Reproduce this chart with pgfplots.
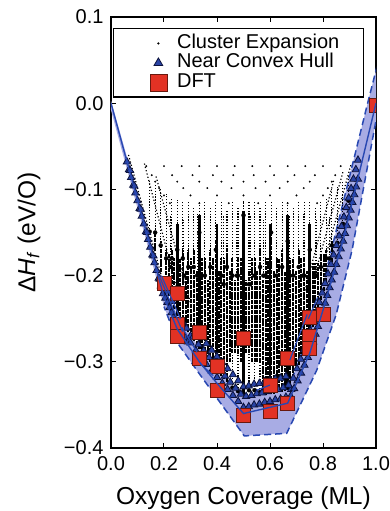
\documentclass[border=0pt]{standalone}
\usepackage{pgfplots}
\pgfplotsset{compat=1.18}
\usepackage{fontspec}
\setmainfont{Liberation Sans}
\definecolor{bandfill}{RGB}{168,172,228}
\definecolor{hullblue}{RGB}{40,72,178}
\definecolor{triblue}{RGB}{42,68,165}
\definecolor{tridark}{RGB}{12,18,60}
\definecolor{dftred}{RGB}{226,50,36}
\definecolor{dftdark}{RGB}{105,25,15}
\pgfplotsset{
  mylegimg/.style={legend image code/.code={\path (-41pt,-6pt) (17pt,6pt); \draw[mark repeat=1,##1,#1] plot coordinates {(0pt,0pt)};}},
}
\begin{document}
\begin{tikzpicture}
\useasboundingbox (-111pt,-63pt) rectangle (279pt,448pt);
\begin{axis}[
  at={(0pt,0pt)}, anchor=south west,
  scale only axis, width=265pt, height=431pt,
  xmin=0, xmax=1, ymin=-0.4, ymax=0.1,
  xtick={0,0.2,0.4,0.6,0.8,1}, xticklabels={0.0,0.2,0.4,0.6,0.8,1.0},
  ytick={-0.4,-0.3,-0.2,-0.1,0,0.1}, yticklabels={−0.4,−0.3,−0.2,−0.1,0.0,0.1},
  minor tick num=0, tick align=inside, major tick length=5.5pt,
  every tick/.style={black, line width=1pt},
  axis line style={line width=1.4pt},
  tick label style={font=\fontsize{20}{24}\selectfont},
  xticklabel style={yshift=-5pt},
  yticklabel style={xshift=-4pt},
  xlabel={Oxygen Coverage (ML)},
  xlabel style={font=\fontsize{24.5}{28}\selectfont, at={(axis description cs:0.5,-0.132)}, anchor=base},
  ylabel={Δ\textit{H}\textsubscript{\textit{f}} (eV/O)},
  ylabel style={font=\fontsize{24.5}{28}\selectfont, at={(axis description cs:-0.309,0.5)}, anchor=center},
  clip marker paths=true,
  legend cell align=left,
  legend style={at={(axis description cs:0.0075,0.9745)}, anchor=north west, draw=black, line width=1.4pt, fill=white, inner xsep=3pt, inner ysep=5pt, row sep=0pt, font=\fontsize{20}{20}\selectfont, nodes={inner xsep=1pt, inner ysep=0pt, text height=14.5pt, text depth=5pt}},
]
% uncertainty band
\addplot[fill=bandfill, draw=none, forget plot] coordinates {
(0,0.003) (0.2,-0.214) (0.25,-0.245) (0.333,-0.284) (0.4,-0.308) (0.5,-0.342) (0.667,-0.332) (0.75,-0.268) (0.8,-0.21) (0.97,0.002) (1.01,0.05)
(1.04,0.0) (1.0,-0.02) (0.91,-0.17) (0.85,-0.245) (0.776,-0.31) (0.663,-0.383) (0.503,-0.386) (0.336,-0.315) (0.255,-0.28) (0.2,-0.236) (0,-0.008)};
\addplot[hullblue, line width=1.5pt, dash pattern=on 7pt off 4pt, forget plot] coordinates {
(0.667,-0.332) (0.75,-0.268) (0.8,-0.21) (0.97,0.002) (1.01,0.05)};
\addplot[hullblue, line width=1.5pt, dash pattern=on 7pt off 4pt, forget plot] coordinates {
(1.04,0.0) (1.0,-0.02) (0.91,-0.17) (0.85,-0.245) (0.776,-0.31) (0.663,-0.383) (0.503,-0.386) (0.336,-0.315) (0.255,-0.28) (0.2,-0.236)};
% cluster expansion: sparse rows
\addplot[only marks, mark=*, mark size=0.85pt, black, line width=0.2pt, mylegimg={mark size=1pt}] table {
x y
0.1333 -0.073
0.2 -0.073
0.2667 -0.073
0.3333 -0.073
0.4 -0.073
0.4667 -0.073
0.5333 -0.073
0.6 -0.073
0.6667 -0.073
0.7333 -0.073
0.8 -0.073
0.8667 -0.073
0.1538 -0.0835
0.2308 -0.0835
0.3077 -0.0835
0.3846 -0.0835
0.4615 -0.0835
0.5385 -0.0835
0.6154 -0.0835
0.6923 -0.0835
0.7692 -0.0835
0.8462 -0.0835
0.1667 -0.091
0.25 -0.091
0.3333 -0.091
0.4167 -0.091
0.5 -0.091
0.5833 -0.091
0.6667 -0.091
0.75 -0.091
0.8333 -0.091
0.1818 -0.0985
0.2727 -0.0985
0.3636 -0.0985
0.4545 -0.0985
0.5455 -0.0985
0.6364 -0.0985
0.7273 -0.0985
0.8182 -0.0985
0.2 -0.107
0.3 -0.107
0.4 -0.107
0.5 -0.107
0.6 -0.107
0.7 -0.107
0.8 -0.107
0.2222 -0.116
0.3333 -0.116
0.4444 -0.116
0.5556 -0.116
0.6667 -0.116
0.7778 -0.116
};
\addlegendentry{Cluster Expansion\hspace*{20pt}}
% cluster expansion: diagonal strips
\addplot[black, line width=1.2pt, dash pattern=on 1.2pt off 2.2pt, unbounded coords=jump, forget plot] coordinates {
(0.066,-0.060) (0.2,-0.2114) (0.2,nan)
(0.126,-0.070) (0.25,-0.2175) (0.25,nan)
(0.17,-0.085) (0.3,-0.232) (0.3,nan)
(0.905,-0.072) (0.79,-0.2) (0.79,nan)
(0.875,-0.08) (0.76,-0.21) (0.76,nan)
(0.84,-0.09) (0.73,-0.22)};
% cluster expansion: sparse columns
\addplot[only marks, mark=none, forget plot, error bars/.cd, y dir=plus, y explicit, error mark=none,
  error bar style={black, line width=1.2pt, dash pattern=on 1.2pt off 1.7pt}]
  table[x=x, y=lo, y error plus expr=\thisrow{hi}-\thisrow{lo}] {
x lo hi
0.1458 -0.149 -0.090
0.1667 -0.150 -0.095
0.1875 -0.165 -0.100
0.2083 -0.180 -0.105
0.2292 -0.180 -0.110
0.2500 -0.170 -0.112
0.2708 -0.180 -0.113
0.2917 -0.190 -0.113
0.3125 -0.190 -0.120
0.3333 -0.150 -0.113
0.3542 -0.200 -0.113
0.3750 -0.190 -0.120
0.3958 -0.170 -0.113
0.4167 -0.200 -0.113
0.4375 -0.190 -0.125
0.4583 -0.200 -0.113
0.4583 -0.330 -0.290
0.4792 -0.200 -0.120
0.4792 -0.334 -0.290
0.5000 -0.130 -0.113
0.5208 -0.210 -0.115
0.5208 -0.333 -0.290
0.5417 -0.200 -0.113
0.5417 -0.333 -0.300
0.5625 -0.190 -0.120
0.5625 -0.335 -0.300
0.5833 -0.200 -0.113
0.6042 -0.150 -0.113
0.6250 -0.200 -0.120
0.6458 -0.190 -0.113
0.6667 -0.160 -0.113
0.6875 -0.200 -0.120
0.7083 -0.190 -0.113
0.7292 -0.200 -0.113
0.7500 -0.170 -0.113
0.7708 -0.200 -0.120
0.7917 -0.190 -0.113
0.8125 -0.180 -0.110
0.8333 -0.165 -0.100
0.8542 -0.162 -0.095
0.8750 -0.140 -0.090
0.8958 -0.113 -0.085
0.2250 -0.190 -0.130
0.2750 -0.200 -0.135
0.3250 -0.200 -0.128
0.4250 -0.210 -0.130
0.4750 -0.200 -0.140
0.5250 -0.210 -0.130
0.5750 -0.200 -0.135
0.6750 -0.200 -0.130
0.7250 -0.200 -0.128
0.7750 -0.200 -0.135
0.8250 -0.180 -0.130
};
% cluster expansion: dense columns
\addplot[black, line width=2pt, dash pattern=on 4pt off 0.8pt, unbounded coords=jump, forget plot] coordinates {
(0.1667,-0.172)(0.1667,-0.150)(0.1667,nan)
(0.1875,-0.196)(0.1875,-0.160)(0.1875,nan)
(0.2083,-0.216)(0.2083,-0.170)(0.2083,nan)
(0.2188,-0.224)(0.2188,-0.175)(0.2188,nan)
(0.2292,-0.232)(0.2292,-0.170)(0.2292,nan)
(0.2396,-0.239)(0.2396,-0.180)(0.2396,nan)
(0.2500,-0.247)(0.2500,-0.160)(0.2500,nan)
(0.2604,-0.252)(0.2604,-0.180)(0.2604,nan)
(0.2708,-0.256)(0.2708,-0.170)(0.2708,nan)
(0.2813,-0.261)(0.2813,-0.195)(0.2813,nan)
(0.2917,-0.266)(0.2917,-0.170)(0.2917,nan)
(0.3021,-0.271)(0.3021,-0.180)(0.3021,nan)
(0.3125,-0.276)(0.3125,-0.170)(0.3125,nan)
(0.3229,-0.280)(0.3229,-0.195)(0.3229,nan)
(0.3333,-0.285)(0.3333,-0.140)(0.3333,nan)
(0.3438,-0.289)(0.3438,-0.180)(0.3438,nan)
(0.3542,-0.293)(0.3542,-0.180)(0.3542,nan)
(0.3646,-0.297)(0.3646,-0.205)(0.3646,nan)
(0.3750,-0.300)(0.3750,-0.170)(0.3750,nan)
(0.3854,-0.305)(0.3854,-0.180)(0.3854,nan)
(0.3958,-0.308)(0.3958,-0.160)(0.3958,nan)
(0.4063,-0.312)(0.4063,-0.195)(0.4063,nan)
(0.4167,-0.316)(0.4167,-0.180)(0.4167,nan)
(0.4271,-0.320)(0.4271,-0.180)(0.4271,nan)
(0.4375,-0.323)(0.4375,-0.170)(0.4375,nan)
(0.4479,-0.300)(0.4479,-0.195)(0.4479,nan)
(0.4583,-0.290)(0.4583,-0.180)(0.4583,nan)
(0.4688,-0.290)(0.4688,-0.205)(0.4688,nan)
(0.4792,-0.290)(0.4792,-0.180)(0.4792,nan)
(0.4896,-0.300)(0.4896,-0.180)(0.4896,nan)
(0.5104,-0.290)(0.5104,-0.205)(0.5104,nan)
(0.5208,-0.290)(0.5208,-0.195)(0.5208,nan)
(0.5313,-0.300)(0.5313,-0.180)(0.5313,nan)
(0.5417,-0.300)(0.5417,-0.180)(0.5417,nan)
(0.5521,-0.300)(0.5521,-0.195)(0.5521,nan)
(0.5625,-0.300)(0.5625,-0.170)(0.5625,nan)
(0.5729,-0.337)(0.5729,-0.205)(0.5729,nan)
(0.5833,-0.338)(0.5833,-0.180)(0.5833,nan)
(0.5938,-0.3375)(0.5938,-0.180)(0.5938,nan)
(0.6042,-0.3375)(0.6042,-0.140)(0.6042,nan)
(0.6146,-0.337)(0.6146,-0.195)(0.6146,nan)
(0.6250,-0.336)(0.6250,-0.180)(0.6250,nan)
(0.6354,-0.3355)(0.6354,-0.180)(0.6354,nan)
(0.6458,-0.3345)(0.6458,-0.170)(0.6458,nan)
(0.6563,-0.334)(0.6563,-0.195)(0.6563,nan)
(0.6667,-0.333)(0.6667,-0.150)(0.6667,nan)
(0.6771,-0.326)(0.6771,-0.180)(0.6771,nan)
(0.6875,-0.319)(0.6875,-0.180)(0.6875,nan)
(0.6979,-0.311)(0.6979,-0.195)(0.6979,nan)
(0.7083,-0.304)(0.7083,-0.170)(0.7083,nan)
(0.7188,-0.297)(0.7188,-0.180)(0.7188,nan)
(0.7292,-0.290)(0.7292,-0.180)(0.7292,nan)
(0.7396,-0.282)(0.7396,-0.195)(0.7396,nan)
(0.7500,-0.270)(0.7500,-0.160)(0.7500,nan)
(0.7604,-0.260)(0.7604,-0.185)(0.7604,nan)
(0.7708,-0.249)(0.7708,-0.185)(0.7708,nan)
(0.7813,-0.239)(0.7813,-0.185)(0.7813,nan)
(0.7917,-0.228)(0.7917,-0.175)(0.7917,nan)
(0.8021,-0.218)(0.8021,-0.175)(0.8021,nan)
(0.8125,-0.207)(0.8125,-0.170)(0.8125,nan)
(0.8333,-0.184)(0.8333,-0.160)
};
% cluster expansion: heavily populated compositions
\addplot[black, line width=2.6pt, unbounded coords=jump, forget plot] coordinates {
(0.25,-0.247)(0.25,-0.14)(0.25,nan)
(0.3333,-0.285)(0.3333,-0.13)(0.3333,nan)
(0.4,-0.31)(0.4,-0.14)(0.4,nan)
(0.5,-0.338)(0.5,-0.125)(0.5,nan)
(0.6,-0.337)(0.6,-0.14)(0.6,nan)
(0.6667,-0.333)(0.6667,-0.13)(0.6667,nan)
(0.75,-0.27)(0.75,-0.14)
};
% near convex hull
\addplot[only marks, mark=triangle*, mark size=4.2pt, mark options={fill=triblue, draw=tridark, line width=0.8pt}, mylegimg={mark size=5pt}] coordinates {
(0.060,-0.068)(0.068,-0.077)(0.076,-0.086)(0.084,-0.095)(0.092,-0.104)(0.100,-0.113)(0.108,-0.122)(0.116,-0.131)(0.124,-0.140)(0.132,-0.149)(0.140,-0.158)(0.148,-0.167)(0.156,-0.176)(0.164,-0.185)(0.172,-0.194)(0.180,-0.203)(0.188,-0.212)(0.196,-0.221)
(0.072,-0.078)(0.088,-0.096)(0.112,-0.123)(0.136,-0.150)(0.160,-0.177)(0.184,-0.204)
(0.205,-0.226)(0.213,-0.231)(0.221,-0.237)(0.229,-0.243)(0.237,-0.249)(0.262,-0.262)(0.271,-0.267)(0.28,-0.272)(0.29,-0.277)
(0.215,-0.218)(0.232,-0.23)(0.27,-0.254)(0.285,-0.261)(0.3,-0.27)
(0.30,-0.278)(0.32,-0.287)(0.34,-0.296)(0.36,-0.303)(0.38,-0.3105)(0.40,-0.318)(0.42,-0.325)(0.44,-0.332)(0.46,-0.339)(0.48,-0.346)(0.50,-0.353)(0.52,-0.352)(0.54,-0.350)(0.56,-0.349)(0.58,-0.347)(0.60,-0.346)(0.62,-0.344)(0.64,-0.343)(0.66,-0.341)(0.68,-0.332)
(0.31,-0.271)(0.33,-0.280)(0.35,-0.287)(0.37,-0.295)(0.39,-0.302)(0.41,-0.3095)(0.43,-0.3165)(0.45,-0.3235)(0.47,-0.3305)(0.49,-0.3375)(0.51,-0.340)(0.53,-0.339)(0.55,-0.337)(0.57,-0.336)(0.59,-0.3345)(0.61,-0.333)(0.63,-0.332)(0.65,-0.330)(0.67,-0.327)
(0.32,-0.263)(0.34,-0.272)(0.36,-0.279)(0.38,-0.2865)(0.40,-0.294)(0.42,-0.301)(0.44,-0.308)(0.46,-0.315)(0.48,-0.322)(0.50,-0.329)(0.52,-0.328)(0.54,-0.326)(0.56,-0.325)(0.58,-0.323)(0.60,-0.322)(0.62,-0.320)(0.64,-0.319)(0.66,-0.317)
(0.932,-0.088)(0.925,-0.097)(0.918,-0.106)(0.911,-0.115)(0.904,-0.124)(0.897,-0.133)(0.890,-0.142)(0.883,-0.151)(0.876,-0.160)(0.867,-0.169)(0.859,-0.178)(0.850,-0.187)(0.842,-0.196)(0.833,-0.205)(0.825,-0.214)(0.816,-0.223)(0.808,-0.232)(0.800,-0.241)(0.790,-0.250)(0.781,-0.259)(0.772,-0.268)(0.763,-0.277)(0.754,-0.286)(0.743,-0.295)(0.730,-0.304)(0.717,-0.313)(0.704,-0.322)(0.691,-0.331)(0.678,-0.340)
(0.932,-0.066)(0.924,-0.077)(0.915,-0.088)(0.906,-0.099)(0.897,-0.110)(0.888,-0.121)(0.879,-0.132)(0.870,-0.143)(0.861,-0.154)(0.851,-0.165)(0.840,-0.176)(0.830,-0.187)(0.819,-0.198)(0.808,-0.209)(0.797,-0.220)(0.786,-0.231)(0.775,-0.242)(0.763,-0.253)(0.752,-0.264)(0.741,-0.275)(0.729,-0.286)(0.716,-0.297)(0.702,-0.308)(0.688,-0.319)
};
\addlegendentry{Near Convex Hull}
% DFT
\addplot[only marks, mark=square*, mark size=7pt, mark options={fill=dftred, draw=dftdark, line width=0.7pt}, mylegimg={mark size=8.5pt}] coordinates {
(0.2,-0.209) (0.25,-0.221) (0.25,-0.256) (0.25,-0.27) (0.3333,-0.266) (0.3333,-0.296) (0.4,-0.305) (0.4,-0.333) (0.5,-0.273) (0.5,-0.362) (0.6,-0.327) (0.6,-0.358) (0.6667,-0.296) (0.6667,-0.348) (0.75,-0.248) (0.8,-0.245) (0.75,-0.271) (0.75,-0.284) (1.0,-0.002)};
\addlegendentry{DFT}
% hull lines
\addplot[hullblue, line width=1.4pt, forget plot] coordinates {
(0,0) (0.2,-0.225) (0.25,-0.262) (0.3333,-0.3) (0.4,-0.325) (0.5,-0.36) (0.6667,-0.348) (0.75,-0.29) (0.8,-0.24) (0.875,-0.16) (1,0)};
\addplot[hullblue, line width=1.2pt, forget plot, unbounded coords=jump] coordinates {
(0.182,-0.2) (0.27,-0.265) (0.27,nan)
(0.19,-0.2) (0.262,-0.25) (0.262,nan)
(0.268,-0.26) (0.325,-0.289) (0.325,nan)
(0.336,-0.302) (0.386,-0.316) (0.386,nan)
(0.55,-0.333) (0.6,-0.327) (0.6,nan)
(0.675,-0.298) (0.74,-0.245) (0.74,nan)
(0.745,-0.25) (0.78,-0.225)};
\end{axis}
\end{tikzpicture}
\end{document}
